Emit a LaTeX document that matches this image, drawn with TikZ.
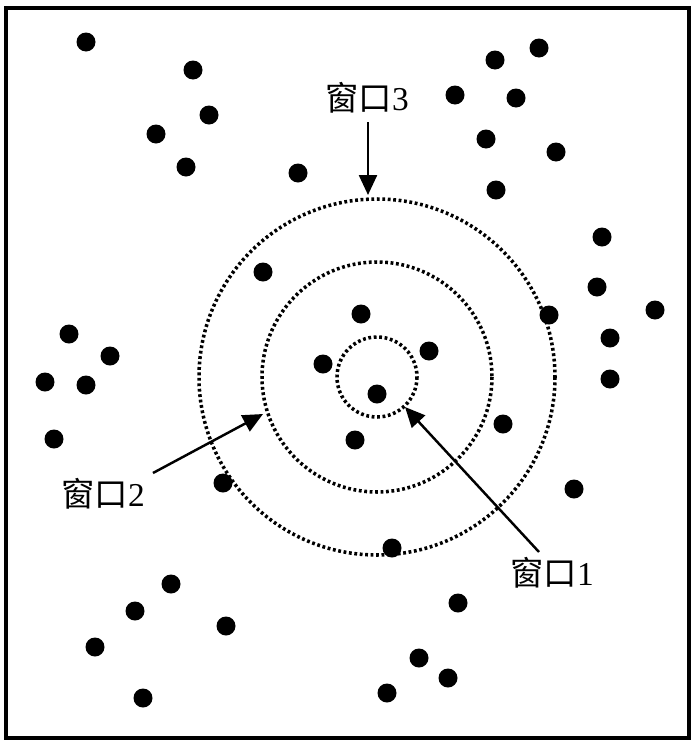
\documentclass[tikz,border=0pt]{standalone}
\usepackage{fontspec}
\setmainfont{Liberation Serif}
\newfontfamily\cjk{Noto Sans CJK SC}
\usetikzlibrary{arrows.meta}

\begin{document}
\begin{tikzpicture}[x=0.02cm, y=-0.02cm,
  win/.style={line width=2pt, dash pattern=on 1.6pt off 1.5pt},
  pointer/.style={line width=1.4pt, -{Triangle[length=0.4cm, width=0.36cm]}},
  lab/.style={font=\fontsize{19}{20}\selectfont, inner sep=0pt}]
\useasboundingbox (0,0) rectangle (700,744);
\draw[line width=1.8pt] (6,8) rectangle (689,738);

% points
\foreach \px/\py in {86/42, 193/70, 209/115, 156/134, 186/167, 298/173,
  495/60, 539/48, 455/95, 516/98, 486/139, 556/152, 496/190,
  602/237, 597/287, 655/310, 549/315, 610/338, 610/379,
  263/272, 361/314, 323/364, 429/351, 377/394, 355/440, 503/424,
  69/334, 110/356, 45/382, 86/385, 54/439, 223/483, 574/489, 392/548,
  171/584, 135/611, 226/626, 95/647, 458/603, 419/658, 448/678,
  387/693, 143/698}
  \fill (\px,\py) circle (9.5);

% windows
\coordinate (c) at (377,377);
\draw[win] (c) circle (40);
\draw[win] (c) circle (115);
\draw[win] (c) circle (178);

% labels
\node[lab] (w3) at (367,98) {{\cjk 窗口}3};
\node[lab] (w2) at (103,494) {{\cjk 窗口}2};
\node[lab] (w1) at (552,573) {{\cjk 窗口}1};

\coordinate (t3) at (368,122);
\coordinate (t2) at (153,473);
\coordinate (t1) at (539,552);
\coordinate (h3) at (368,195);
\coordinate (h2) at (263,414);
\coordinate (h1) at (405,407);

\draw[pointer] (t3) -- (h3);
\draw[pointer] (t2) -- (h2);
\draw[pointer] (t1) -- (h1);

\end{tikzpicture}
\end{document}
